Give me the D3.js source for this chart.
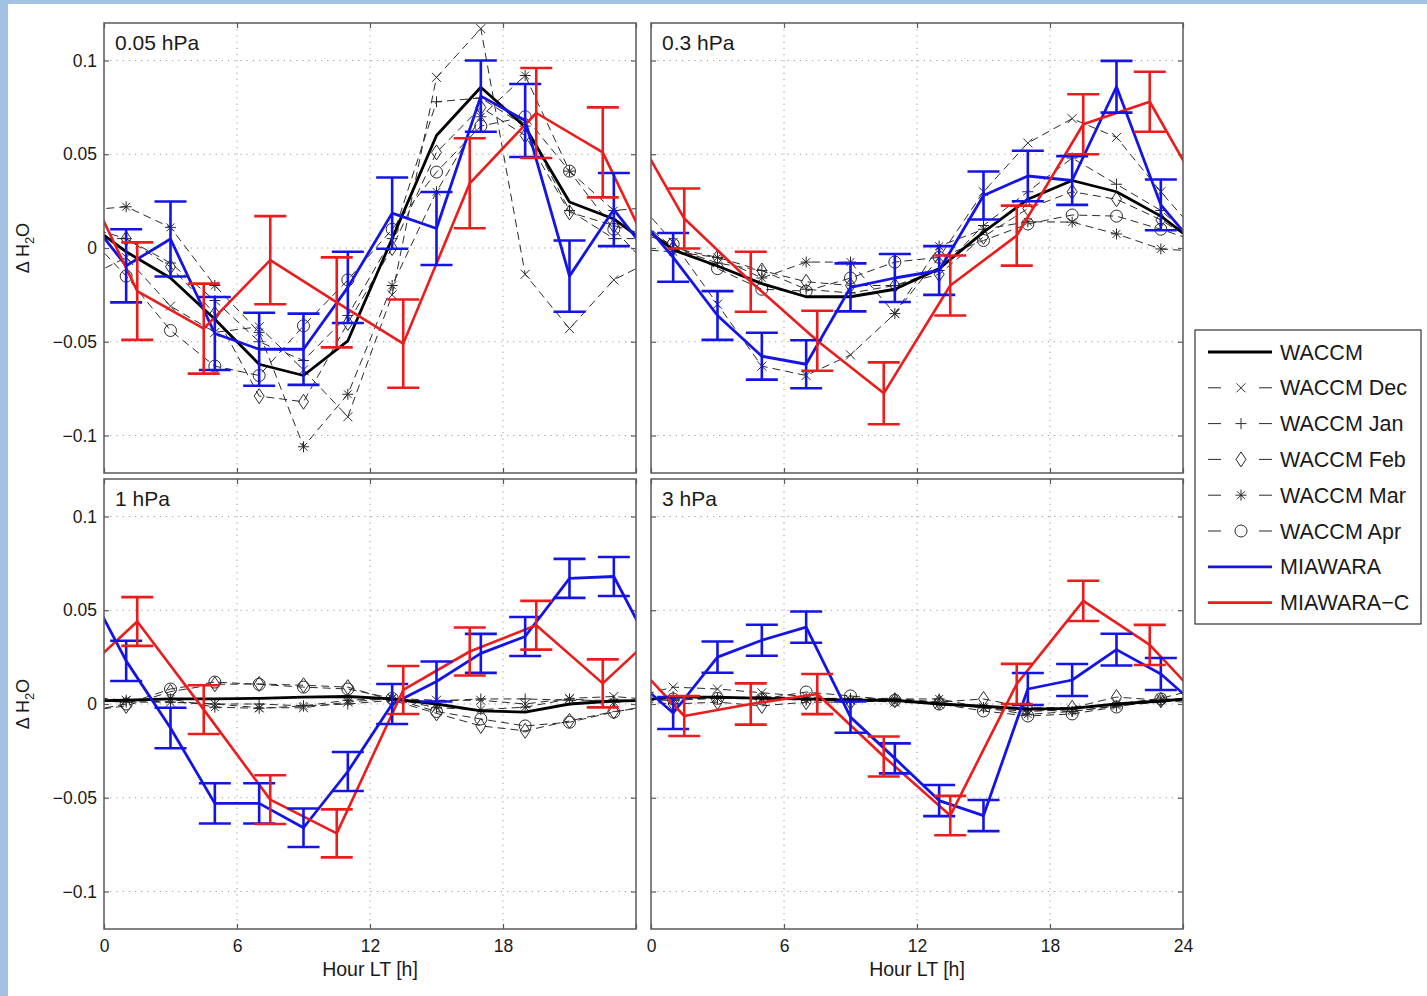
<!DOCTYPE html>
<html>
<head>
<meta charset="utf-8">
<script src="https://cdn.jsdelivr.net/npm/d3@7"></script>
<style>
  html, body { margin: 0; padding: 0; background: #fff; }
  svg { display: block; font-family: "Liberation Sans", Arial, Helvetica, sans-serif; }
</style>
</head>
<body>
<svg id="chart" width="1427" height="996"></svg>
<script>
// ---- sampling hours and axis ticks ----
const hours  = [1, 3, 5, 7, 9, 11, 13, 15, 17, 19, 21, 23];   // WACCM and MIAWARA
const hoursC = [1.5, 4.5, 7.5, 10.5, 13.5, 16.5, 19.5, 22.5];  // MIAWARA-C
const xTicks = [0, 6, 12, 18, 24];
const yTicks = [-0.1, -0.05, 0, 0.05, 0.1];
const levels = ['0.05 hPa', '0.3 hPa', '1 hPa', '3 hPa'];
const legendLabels = ['WACCM', 'WACCM Dec', 'WACCM Jan', 'WACCM Feb', 'WACCM Mar', 'WACCM Apr', 'MIAWARA', 'MIAWARA\u2212C'];

// ---- 0.05 hPa ----
const waccm005   = [-0.002, -0.016, -0.038, -0.062, -0.068, -0.0495, 0.005, 0.06, 0.0857, 0.0645, 0.0245, 0.0155];
const dec005     = [-0.005, -0.031, -0.045, -0.042, -0.065, -0.09, -0.025, 0.091, 0.117, -0.014, -0.043, -0.017];
const jan005     = [0.005, -0.008, -0.028, -0.05, -0.06, -0.036, 0.005, 0.078, 0.08, 0.065, 0.02, 0.005];
const feb005     = [0.005, -0.01, -0.035, -0.079, -0.082, -0.04, 0.0, 0.051, 0.075, 0.06, 0.019, 0.012];
const mar005     = [0.022, 0.011, -0.02, -0.045, -0.106, -0.078, -0.02, 0.03, 0.07, 0.092, 0.041, 0.02];
const apr005     = [-0.015, -0.044, -0.063, -0.068, -0.0415, -0.017, 0.01, 0.0405, 0.065, 0.07, 0.041, 0.01];
const mia005     = [-0.0095, 0.0048, -0.0456, -0.054, -0.054, -0.021, 0.0186, 0.0104, 0.081, 0.068, -0.015, 0.0205];
const miaErr005  = [0.0195, 0.02, 0.0195, 0.0195, 0.019, 0.019, 0.019, 0.0195, 0.019, 0.0195, 0.019, 0.0195];
const miaC005    = [-0.023, -0.043, -0.0065, -0.029, -0.051, 0.0345, 0.072, 0.051];
const miaCErr005 = [0.026, 0.024, 0.0235, 0.024, 0.0235, 0.024, 0.024, 0.024];

// ---- 0.3 hPa ----
const waccm03   = [-0.001, -0.0096, -0.019, -0.026, -0.026, -0.022, -0.011, 0.0085, 0.026, 0.036, 0.03, 0.017];
const dec03     = [0.003, -0.03, -0.063, -0.068, -0.057, -0.035, -0.005, 0.03, 0.056, 0.069, 0.059, 0.03];
const jan03     = [0.0, -0.008, -0.012, -0.022, -0.024, -0.02, -0.012, 0.012, 0.03, 0.048, 0.034, 0.02];
const feb03     = [0.0, -0.005, -0.012, -0.018, -0.02, -0.02, -0.014, 0.006, 0.021, 0.03, 0.026, 0.015];
const mar03     = [-0.002, -0.005, -0.016, -0.0075, -0.0075, -0.035, 0.001, 0.01, 0.014, 0.0138, 0.0075, -0.0005];
const apr03     = [0.002, -0.011, -0.022, -0.023, -0.016, -0.0075, -0.005, 0.004, 0.0128, 0.0176, 0.017, 0.01];
const mia03     = [-0.005, -0.036, -0.0577, -0.062, -0.021, -0.016, -0.012, 0.028, 0.0384, 0.036, 0.086, 0.023];
const miaErr03  = [0.013, 0.013, 0.0125, 0.0128, 0.0128, 0.0128, 0.013, 0.0128, 0.0135, 0.013, 0.0138, 0.0135];
const miaC03    = [0.0157, -0.018, -0.0495, -0.0775, -0.02, 0.0066, 0.066, 0.078];
const miaCErr03 = [0.016, 0.016, 0.016, 0.0165, 0.016, 0.016, 0.016, 0.016];

// ---- 1 hPa ----
const waccm1   = [0.002, 0.0027, 0.0027, 0.003, 0.0037, 0.004, 0.0027, 0.0, -0.0037, -0.0043, 0.0, 0.0016];
const dec1     = [0.002, 0.001, 0.0, -0.002, -0.002, 0.001, 0.003, 0.002, 0.002, 0.0, 0.003, 0.004];
const jan1     = [0.001, 0.001, 0.0, 0.0, -0.001, 0.0, 0.002, 0.0016, 0.0027, 0.0027, 0.002, 0.002];
const feb1     = [-0.001, 0.0066, 0.0105, 0.0107, 0.01, 0.009, 0.002, -0.005, -0.0117, -0.0143, -0.009, -0.004];
const mar1     = [0.002, 0.0027, -0.0017, -0.0023, -0.001, 0.002, 0.003, -0.002, -0.003, -0.0017, 0.0027, 0.001];
const apr1     = [0.0, 0.008, 0.0117, 0.0105, 0.009, 0.008, 0.003, -0.004, -0.008, -0.0117, -0.0097, -0.0043];
const mia1     = [0.023, -0.0128, -0.053, -0.053, -0.066, -0.036, 0.0, 0.012, 0.027, 0.036, 0.067, 0.068];
const miaErr1  = [0.0107, 0.0108, 0.0107, 0.0107, 0.0103, 0.0104, 0.0107, 0.0107, 0.0104, 0.0104, 0.0104, 0.0104];
const miaC1    = [0.044, -0.003, -0.051, -0.069, 0.0075, 0.028, 0.042, 0.011];
const miaCErr1 = [0.013, 0.013, 0.013, 0.0128, 0.0128, 0.0128, 0.013, 0.0128];

// ---- 3 hPa ----
const waccm3   = [0.0037, 0.0037, 0.003, 0.0027, 0.002, 0.002, 0.0, -0.0012, -0.0027, -0.0023, 0.0, 0.0016];
const dec3     = [0.009, 0.008, 0.006, 0.004, 0.002, 0.001, 0.0, -0.002, -0.004, -0.003, 0.0, 0.003];
const jan3     = [0.004, 0.003, 0.004, 0.003, 0.003, 0.003, 0.001, -0.002, -0.003, -0.004, -0.001, 0.001];
const feb3     = [0.0, 0.001, -0.001, 0.001, 0.001, 0.002, 0.001, 0.0027, -0.002, -0.002, 0.0037, 0.002];
const mar3     = [0.002, 0.003, 0.003, 0.002, 0.002, 0.0027, 0.0027, -0.002, -0.0055, -0.004, -0.001, 0.002];
const apr3     = [0.0027, 0.003, 0.0027, 0.0064, 0.0043, 0.002, 0.0, -0.0037, -0.0064, -0.0053, -0.0016, 0.0027];
const mia3     = [-0.0048, 0.025, 0.034, 0.041, -0.007, -0.029, -0.0515, -0.0595, 0.008, 0.0128, 0.029, 0.016];
const miaErr3  = [0.0085, 0.0083, 0.0083, 0.0083, 0.0083, 0.008, 0.0083, 0.0083, 0.0085, 0.0085, 0.0085, 0.0085];
const miaC3    = [-0.0064, 0.0, 0.0053, -0.028, -0.0595, 0.0107, 0.055, 0.0315];
const miaCErr3 = [0.0107, 0.011, 0.0107, 0.0107, 0.0105, 0.0107, 0.0107, 0.0107];

const panels = [
  { title: levels[0], waccm: waccm005, months: [dec005, jan005, feb005, mar005, apr005], mia: mia005, miaErr: miaErr005, miaC: miaC005, miaCErr: miaCErr005 },
  { title: levels[1], waccm: waccm03,  months: [dec03, jan03, feb03, mar03, apr03],      mia: mia03,  miaErr: miaErr03,  miaC: miaC03,  miaCErr: miaCErr03 },
  { title: levels[2], waccm: waccm1,   months: [dec1, jan1, feb1, mar1, apr1],           mia: mia1,   miaErr: miaErr1,   miaC: miaC1,   miaCErr: miaCErr1 },
  { title: levels[3], waccm: waccm3,   months: [dec3, jan3, feb3, mar3, apr3],           mia: mia3,   miaErr: miaErr3,   miaC: miaC3,   miaCErr: miaCErr3 }
];

// ---- styling ----
const BLUE = '#1414e6', RED = '#eb1c1c', BLACK = '#000';
const AXIS = '#5a5a5a', TEXT = '#1a1a1a';
const monthMarkers = ['x', 'plus', 'diamond', 'star', 'circle'];
const markerPaths = {
  x: 'M-4.5,-4.5L4.5,4.5M-4.5,4.5L4.5,-4.5',
  plus: 'M-5.5,0H5.5M0,-5.5V5.5',
  diamond: 'M0,-7.5L5,0L0,7.5L-5,0Z',
  star: 'M-5.5,0H5.5M0,-5.5V5.5M-3.9,-3.9L3.9,3.9M-3.9,3.9L3.9,-3.9',
  circle: 'M6,0A6,6 0 1 1 -6,0A6,6 0 1 1 6,0Z'
};

const W = 1427, H = 996;
const plotW = 532, plotH = 450;
const colX = [104, 651], rowY = [23, 479];

const svg = d3.select('#chart');
svg.append('rect').attr('width', W).attr('height', H).attr('fill', '#fff');
svg.append('rect').attr('width', W).attr('height', 4).attr('fill', '#a2c1e3');
svg.append('rect').attr('width', 8).attr('height', H).attr('fill', '#a2c1e3');
const defs = svg.append('defs');

const x = d3.scaleLinear().domain([0, 24]).range([0, plotW]);
const y = d3.scaleLinear().domain([-0.12, 0.12]).range([plotH, 0]);
const fmtY = v => v === 0 ? '0' : (v < 0 ? '\u2212' : '') + d3.format('~g')(Math.abs(v));
const line = d3.line().x(d => x(d[0])).y(d => y(d[1]));

// repeat the daily cycle one day either side so lines run out to both edges
function cyclic(xs, ys) {
  const pts = [];
  [-24, 0, 24].forEach(s => xs.forEach((h, i) => pts.push([h + s, ys[i]])));
  return pts.sort((a, b) => a[0] - b[0]);
}

function errorBars(g, xs, vals, errs, color) {
  const cap = 16;
  g.append('g')
    .attr('stroke', color).attr('stroke-width', 2.6).attr('fill', 'none')
    .selectAll('path')
    .data(xs.map((h, i) => ({ h, v: vals[i], e: errs[i] })))
    .join('path')
    .attr('d', d => {
      const cx = x(d.h), y0 = y(d.v - d.e), y1 = y(d.v + d.e);
      return `M${cx},${y0}V${y1}M${cx - cap},${y0}H${cx + cap}M${cx - cap},${y1}H${cx + cap}`;
    });
}

panels.forEach((p, i) => {
  const col = i % 2, row = Math.floor(i / 2);
  const g = svg.append('g').attr('transform', `translate(${colX[col]},${rowY[row]})`);

  defs.append('clipPath').attr('id', `clip${i}`)
    .append('rect').attr('width', plotW).attr('height', plotH);

  // dotted grid
  const grid = g.append('g').attr('stroke', '#9a9a9a').attr('stroke-width', 1).attr('stroke-dasharray', '1.2,5');
  grid.selectAll('.gx').data(xTicks.filter(t => t > 0 && t < 24)).join('line')
    .attr('x1', d => x(d)).attr('x2', d => x(d)).attr('y1', 0).attr('y2', plotH);
  grid.selectAll('.gy').data(yTicks).join('line')
    .attr('x1', 0).attr('x2', plotW).attr('y1', d => y(d)).attr('y2', d => y(d));

  // axes, ticks pointing inwards on all four sides
  const showX = row === 1, showY = col === 0;
  const xLab = col === 0 ? xTicks.filter(t => t < 24) : xTicks;
  const axes = [
    g.append('g').attr('transform', `translate(0,${plotH})`)
      .call(d3.axisBottom(x).tickValues(xTicks).tickSize(-5).tickPadding(11)
        .tickFormat(d => showX && xLab.includes(d) ? d : '')),
    g.append('g').call(d3.axisTop(x).tickValues(xTicks).tickSize(-5).tickFormat('')),
    g.append('g').call(d3.axisLeft(y).tickValues(yTicks).tickSize(-5).tickPadding(7)
      .tickFormat(d => showY ? fmtY(d) : '')),
    g.append('g').attr('transform', `translate(${plotW},0)`)
      .call(d3.axisRight(y).tickValues(yTicks).tickSize(-5).tickFormat(''))
  ];
  axes.forEach(a => {
    a.select('.domain').remove();
    a.selectAll('.tick line').attr('stroke', AXIS).attr('stroke-width', 1.2);
    a.selectAll('.tick text').attr('fill', TEXT).style('font-size', '17.5px')
      .style('font-family', '"Liberation Sans", Arial, sans-serif');
  });

  const plot = g.append('g').attr('clip-path', `url(#clip${i})`);

  // monthly WACCM curves
  p.months.forEach((vals, m) => {
    plot.append('path').datum(cyclic(hours, vals)).attr('d', line)
      .attr('fill', 'none').attr('stroke', '#2a2a2a').attr('stroke-width', 1)
      .attr('stroke-dasharray', '8,5');
    plot.append('g').selectAll('path').data(hours.map((h, k) => [h, vals[k]])).join('path')
      .attr('transform', d => `translate(${x(d[0])},${y(d[1])})`)
      .attr('d', markerPaths[monthMarkers[m]])
      .attr('fill', 'none').attr('stroke', '#2a2a2a').attr('stroke-width', 1);
  });

  // WACCM mean
  plot.append('path').datum(cyclic(hours, p.waccm)).attr('d', line)
    .attr('fill', 'none').attr('stroke', BLACK).attr('stroke-width', 2.8).attr('stroke-linejoin', 'round');

  // MIAWARA
  plot.append('path').datum(cyclic(hours, p.mia)).attr('d', line)
    .attr('fill', 'none').attr('stroke', BLUE).attr('stroke-width', 2.8).attr('stroke-linejoin', 'round');
  errorBars(g, hours, p.mia, p.miaErr, BLUE);

  // MIAWARA-C
  plot.append('path').datum(cyclic(hoursC, p.miaC)).attr('d', line)
    .attr('fill', 'none').attr('stroke', RED).attr('stroke-width', 2.6).attr('stroke-linejoin', 'round');
  errorBars(g, hoursC, p.miaC, p.miaCErr, RED);

  // frame
  g.append('rect').attr('width', plotW).attr('height', plotH)
    .attr('fill', 'none').attr('stroke', AXIS).attr('stroke-width', 1.5);

  // pressure level
  g.append('text').attr('x', 11).attr('y', 27).attr('fill', TEXT)
    .style('font-size', '21px').text(p.title);

  if (showY) {
    const yl = g.append('text')
      .attr('transform', `translate(${29 - colX[col]},${plotH / 2}) rotate(-90)`)
      .attr('text-anchor', 'middle').attr('fill', TEXT).style('font-size', '18px');
    yl.append('tspan').text('\u0394 H');
    yl.append('tspan').attr('dy', 5).style('font-size', '13px').text('2');
    yl.append('tspan').attr('dy', -5).text('O');
  }
  if (showX) {
    g.append('text').attr('x', plotW / 2).attr('y', plotH + 47)
      .attr('text-anchor', 'middle').attr('fill', TEXT).style('font-size', '19.5px')
      .text('Hour LT [h]');
  }
});

// legend
const lg = svg.append('g').attr('transform', 'translate(1195,330)');
lg.append('rect').attr('width', 226).attr('height', 294)
  .attr('fill', '#fff').attr('stroke', '#333').attr('stroke-width', 1.2);
legendLabels.forEach((label, k) => {
  const cy = 22 + k * 35.8;
  const row = lg.append('g').attr('transform', `translate(0,${cy})`);
  if (k === 0 || k >= 6) {
    const color = k === 0 ? BLACK : (k === 6 ? BLUE : RED);
    row.append('line').attr('x1', 13).attr('x2', 77).attr('stroke', color).attr('stroke-width', 2.8);
  } else {
    row.append('path').attr('d', 'M13,0H26M64,0H77').attr('stroke', '#2a2a2a').attr('stroke-width', 1);
    row.append('path').attr('transform', 'translate(46,0)').attr('d', markerPaths[monthMarkers[k - 1]])
      .attr('fill', 'none').attr('stroke', '#2a2a2a').attr('stroke-width', 1);
  }
  row.append('text').attr('x', 85).attr('y', 7.5).attr('fill', TEXT)
    .style('font-size', '21.5px').text(label);
});
</script>
</body>
</html>
